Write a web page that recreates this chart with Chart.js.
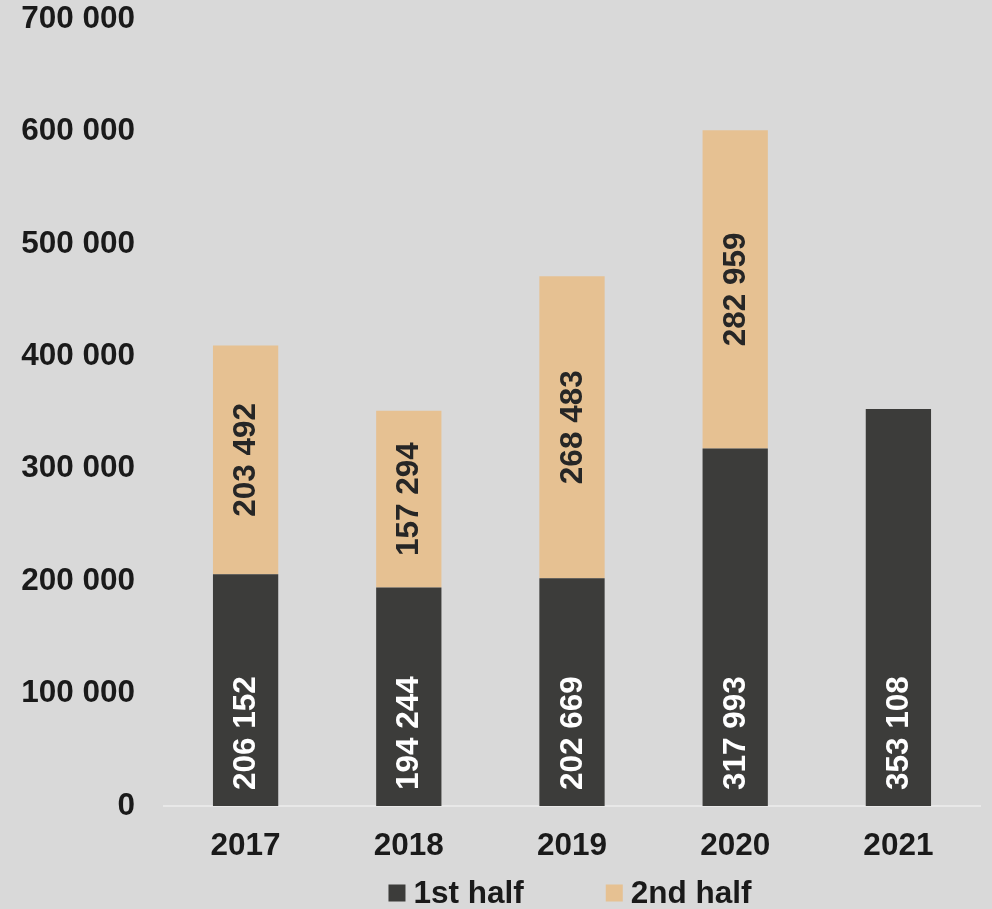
<!DOCTYPE html>
<html>
<head>
<meta charset="utf-8">
<script src="https://cdn.jsdelivr.net/npm/chart.js@4/dist/chart.umd.min.js"></script>
<style>
  html, body { margin: 0; padding: 0; background: #d9d9d9; }
  #wrap { width: 992px; height: 909px; position: relative; }
</style>
</head>
<body>
<div id="wrap"><canvas id="c" width="992" height="909"></canvas></div>
<script>
const years = ['2017', '2018', '2019', '2020', '2021'];
const firstHalf = [206152, 194244, 202669, 317993, 353108];
const secondHalf = [203492, 157294, 268483, 282959, null];
const seriesNames = ['1st half', '2nd half'];
const yTicks = [0, 100000, 200000, 300000, 400000, 500000, 600000, 700000];

const DARK = '#3c3c3a';
const TAN = '#e6c192';
const FONT = "'Liberation Sans', Arial, sans-serif";
const FSIZE = 31.5;

function fmt(v) {
  return String(Math.round(v)).replace(/\B(?=(\d{3})+(?!\d))/g, ' ');
}

// Value labels written vertically inside each bar segment
const barLabels = {
  id: 'barLabels',
  afterDatasetsDraw(chart) {
    const ctx = chart.ctx;
    ctx.save();
    ctx.font = 'bold ' + FSIZE + 'px ' + FONT;
    chart.data.datasets.forEach((ds, di) => {
      const meta = chart.getDatasetMeta(di);
      meta.data.forEach((bar, i) => {
        const v = ds.data[i];
        if (v == null) return;
        const p = bar.getProps(['x', 'y', 'base'], true);
        ctx.save();
        ctx.translate(p.x, 0);
        ctx.rotate(-Math.PI / 2);
        ctx.textBaseline = 'middle';
        if (di === 0) {
          ctx.fillStyle = '#ffffff';
          ctx.textAlign = 'left';
          ctx.fillText(fmt(v), -(p.base - 16), 1);
        } else {
          ctx.fillStyle = '#262626';
          ctx.textAlign = 'center';
          ctx.fillText(fmt(v), -((p.y + p.base) / 2), 1);
        }
        ctx.restore();
      });
    });
    ctx.restore();
  }
};

// Legend row centred under the plot area
const bottomLegend = {
  id: 'bottomLegend',
  afterDraw(chart) {
    const ctx = chart.ctx;
    const area = chart.chartArea;
    ctx.save();
    ctx.font = 'bold ' + FSIZE + 'px ' + FONT;
    ctx.textBaseline = 'middle';
    const box = 17, gapText = 8, gapItem = 82;
    const items = chart.data.datasets.map(ds => ({ label: ds.label, color: ds.backgroundColor }));
    const widths = items.map(it => box + gapText + ctx.measureText(it.label).width);
    const total = widths.reduce((a, b) => a + b, 0) + gapItem * (items.length - 1);
    let x = (area.left + area.right) / 2 - total / 2 - 2;
    const yMid = 893;
    items.forEach((it, k) => {
      ctx.fillStyle = it.color;
      ctx.fillRect(x, yMid - box / 2, box, box);
      ctx.fillStyle = '#1a1a1a';
      ctx.textAlign = 'left';
      ctx.fillText(it.label, x + box + gapText, yMid + 1);
      x += widths[k] + gapItem;
    });
    ctx.restore();
  }
};

new Chart(document.getElementById('c'), {
  type: 'bar',
  data: {
    labels: years,
    datasets: [
      { label: seriesNames[0], data: firstHalf, backgroundColor: DARK, barPercentage: 0.4, categoryPercentage: 1 },
      { label: seriesNames[1], data: secondHalf, backgroundColor: TAN, barPercentage: 0.4, categoryPercentage: 1 }
    ]
  },
  options: {
    responsive: false,
    animation: false,
    layout: { padding: { top: 19, right: 12, bottom: 47, left: 0 } },
    plugins: {
      legend: { display: false },
      tooltip: { enabled: false }
    },
    scales: {
      x: {
        stacked: true,
        afterFit(scale) { scale.height = 56; scale.paddingLeft = 0; scale.paddingRight = 0; },
        grid: { display: false, drawTicks: false },
        border: { display: true, color: '#e8e8e8', width: 2 },
        ticks: {
          color: '#1a1a1a',
          font: { family: FONT, size: FSIZE, weight: 'bold' },
          padding: 21,
          maxRotation: 0
        }
      },
      y: {
        stacked: true,
        min: 0,
        max: 700000,
        afterFit(scale) { scale.width = 164; scale.paddingTop = 0; scale.paddingBottom = 0; },
        afterBuildTicks(scale) { scale.ticks = yTicks.map(v => ({ value: v })); },
        grid: { display: false, drawTicks: false },
        border: { display: false },
        ticks: {
          color: '#1a1a1a',
          font: { family: FONT, size: FSIZE, weight: 'bold' },
          padding: 29,
          callback: v => fmt(v)
        }
      }
    }
  },
  plugins: [barLabels, bottomLegend]
});
</script>
</body>
</html>
